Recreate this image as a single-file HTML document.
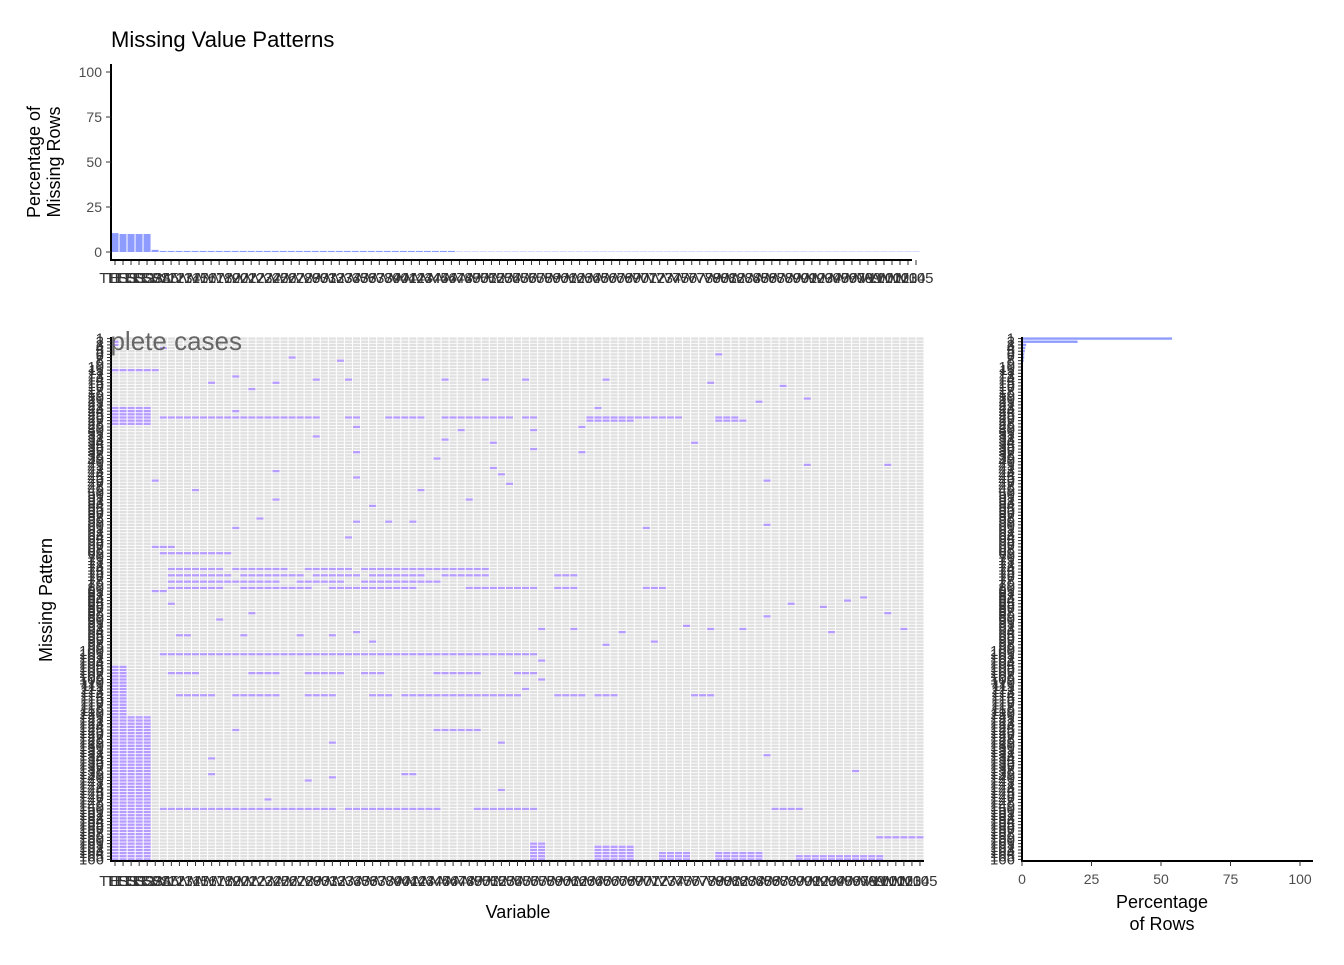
<!DOCTYPE html>
<html><head><meta charset="utf-8"><style>
body{margin:0;background:#fff;font-family:"Liberation Sans",Arial,sans-serif}
svg text{font-family:"Liberation Sans",Arial,sans-serif}
</style></head><body>
<svg id="c" width="1344" height="960" xmlns="http://www.w3.org/2000/svg">
<text x="111" y="47" font-size="22" fill="#000">Missing Value Patterns</text>
<text transform="translate(40,162) rotate(-90)" text-anchor="middle" font-size="18"><tspan x="0" dy="0">Percentage of</tspan><tspan x="0" dy="20">Missing Rows</tspan></text>
<text transform="translate(52,600) rotate(-90)" text-anchor="middle" font-size="18">Missing Pattern</text>
<text x="518" y="918" text-anchor="middle" font-size="18">Variable</text>
<text x="1162" y="908" text-anchor="middle" font-size="18"><tspan x="1162" dy="0">Percentage</tspan><tspan x="1162" dy="22">of Rows</tspan></text>
<g id="topg"></g>
<g id="heat"></g>
<g id="rightg"></g>
</svg>
<script>
const nCols = 101;
const nRows = 166;
const topPct = [10.5,10,10,10,10,1.2].concat(new Array(37).fill(0.6)).concat(new Array(58).fill(0.2));
const rowPct = [54,20,1.5,1.2,1,0.8,0.8,0.6].concat(new Array(158).fill(0.3));
const topTicks = [0,25,50,75,100];
const rightTicks = [0,25,50,75,100];
// missing blocks: row0,row1,col0,col1
const bR0=[3,10,22,25,25,25,25,25,25,25,25,26,26,6,7,14,12,16,14,13,13,13,13,13,13,14,15,5,19,20,22,23,31,32,28,29,33,29,28,25,36,38,41,35,36,33,40,40,45,48,42,44,48,51,43,46,45,53,58,58,58,57,51,60,63,60,59,66,68,73,73,73,73,73,73,75,75,75,75,75,75,77,77,77,77,79,79,79,79,79,79,80,84,87,89,93,96,92,92,93,91,92,92,88,84,85,83,82,87,92,93,94,94,94,94,94,100,97,96,102,108,111,106,106,106,106,106,106,113,113,113,113,113,113,113,113,124,124,128,128,133,138,146,140,139,138,143,137,132,149,149,149,149,160,161,163,163,164,158,104,120,1,2];
const bR1=[3,10,27,25,25,25,25,25,25,25,25,26,26,6,7,14,12,16,14,13,13,13,13,13,13,14,15,5,19,20,22,23,31,32,28,29,33,29,28,25,36,38,41,35,36,33,40,40,45,48,42,44,48,51,43,46,45,53,58,58,58,57,51,60,63,60,59,66,68,73,73,73,73,73,73,75,75,75,75,75,75,77,77,77,77,79,79,79,79,79,79,80,84,87,89,93,96,92,92,93,91,92,92,88,84,85,83,82,87,92,93,94,94,94,94,94,100,97,96,102,108,111,106,106,106,106,106,106,113,113,113,113,113,113,113,113,124,124,128,128,133,138,146,140,139,138,143,137,132,149,149,149,149,165,165,165,165,165,158,165,165,1,2];
const bC0=[6,0,0,6,29,34,41,51,59,64,75,59,75,22,28,12,15,17,20,25,29,41,46,51,61,74,83,75,86,80,60,15,25,41,30,43,47,52,58,63,30,40,47,52,58,72,86,96,5,10,20,30,38,44,48,49,81,32,34,37,30,18,20,15,29,66,81,5,6,7,15,24,31,38,43,7,16,25,32,41,55,7,23,31,37,7,16,27,44,55,66,5,7,17,13,30,32,53,57,63,71,74,78,81,84,88,91,93,96,98,89,8,9,16,23,27,6,61,67,53,53,51,7,17,24,31,40,50,8,15,24,32,36,55,60,72,15,40,48,27,12,12,19,24,27,36,48,92,81,6,29,45,82,52,60,68,75,85,95,0,0,0,0];
const bC1=[6,5,4,25,30,38,49,52,63,70,77,64,78,22,28,12,15,17,20,25,29,41,46,51,61,74,83,75,86,80,60,15,25,41,30,43,47,52,58,63,30,40,47,52,58,72,86,96,5,10,20,30,38,44,48,49,81,32,34,37,30,18,20,15,29,66,81,7,14,13,21,29,37,42,46,14,23,30,38,46,57,20,28,36,40,13,24,37,52,57,68,6,7,17,13,30,32,53,57,63,71,74,78,81,84,88,91,93,96,98,89,8,9,16,23,27,52,61,67,53,53,51,10,20,28,33,45,52,12,20,27,34,50,58,62,74,15,45,48,27,12,12,19,24,27,37,48,92,81,27,40,52,85,53,64,71,80,95,100,1,4,0,0];

const NS='http://www.w3.org/2000/svg';
function mk(p,tag,attrs){const e=document.createElementNS(NS,tag);for(const k in attrs)e.setAttribute(k,attrs[k]);p.appendChild(e);return e;}
const hx0=111,hx1=924,hy0=337,hy1=861;
const cw=(hx1-hx0)/nCols, rh=(hy1-hy0)/nRows;
const xCol=c=>hx0+c*cw, yRow=r=>hy0+r*rh;
const heat=document.getElementById('heat');
const miss=[];for(let r=0;r<nRows;r++)miss.push(new Array(nCols).fill(false));
for(let i=0;i<bR0.length;i++)for(let r=bR0[i];r<=bR1[i];r++)for(let c=bC0[i];c<=bC1[i];c++)if(r<nRows&&c<nCols)miss[r][c]=true;
for(let r=0;r<nRows;r++)for(let c=0;c<nCols;c++){
  const e=mk(heat,'rect',{x:xCol(c)+0.5,y:yRow(r)+0.4,width:cw-1,height:rh-0.8,fill:miss[r][c]?'#b69bff':'#e0e0e0'});
  
  
}
const cp=mk(heat,'clipPath',{id:'hc'});mk(cp,'rect',{x:hx0,y:hy0-20,width:hx1-hx0,height:60});
const cc=mk(heat,'text',{x:242,y:350,'text-anchor':'end','font-size':26,fill:'#666','clip-path':'url(#hc)'});
cc.textContent='Complete cases';


mk(heat,'line',{x1:hx0,y1:hy0,x2:hx0,y2:hy1+1,stroke:'#000','stroke-width':2});
mk(heat,'line',{x1:hx0-1,y1:hy1,x2:hx1,y2:hy1,stroke:'#000','stroke-width':2});
for(let r=0;r<nRows;r++){
  const y=yRow(r)+rh/2;
  mk(heat,'line',{x1:hx0-4,y1:y,x2:hx0,y2:y,stroke:'#333','stroke-width':1});
  const t=mk(heat,'text',{x:104,y:y+5,'text-anchor':'end','font-size':15,fill:'#333'});
  t.textContent=String(r+1);
  
  
}
function varName(c){return c===0?'TE':(c<6?'TESS'+c:'V'+(c+5));}
for(let c=0;c<nCols;c++){
  const x=xCol(c)+cw/2;
  mk(heat,'line',{x1:x,y1:hy1,x2:x,y2:hy1+5,stroke:'#333'});
  const t=mk(heat,'text',{x:x,y:886,'text-anchor':'middle','font-size':15,fill:'#333'});
  t.textContent=varName(c);
  
  
}
const topG=document.getElementById('topg');
const tx0=111,tx1=912,ty0=252,ty100=72;
const tcw=(tx1-tx0)/(nCols-1);
const ty=v=>ty0+(ty100-ty0)*v/100;
for(let c=0;c<topPct.length;c++){
  const b=mk(topG,'rect',{x:tx0+c*tcw+0.5,y:ty(topPct[c]),width:tcw-1,height:ty0-ty(topPct[c]),fill:'#8f9cff'});
  
  
  const x=tx0+c*tcw+tcw/2;
  mk(topG,'line',{x1:x,y1:260,x2:x,y2:265,stroke:'#333'});
  const t=mk(topG,'text',{x:x,y:283,'text-anchor':'middle','font-size':15,fill:'#333'});
  t.textContent=varName(c);
  
  
}
mk(topG,'line',{x1:tx0,y1:64,x2:tx0,y2:261,stroke:'#000','stroke-width':2});
mk(topG,'line',{x1:tx0-1,y1:260,x2:tx1,y2:260,stroke:'#000','stroke-width':2});
topTicks.forEach(v=>{
  mk(topG,'line',{x1:tx0-5,y1:ty(v),x2:tx0,y2:ty(v),stroke:'#333'});
  const t=mk(topG,'text',{x:102,y:ty(v)+5,'text-anchor':'end','font-size':14,fill:'#4d4d4d'});
  t.textContent=v;
  
  
});
const rightG=document.getElementById('rightg');
const rx0=1022,rx100=1300;
const rx=v=>rx0+(rx100-rx0)*v/100;
for(let r=0;r<nRows;r++){
  const b=mk(rightG,'rect',{x:rx0,y:yRow(r)+0.4,width:rx(rowPct[r])-rx0,height:rh-0.8,fill:'#8f9cff'});
  
  
  const y=yRow(r)+rh/2;
  mk(rightG,'line',{x1:rx0-4,y1:y,x2:rx0,y2:y,stroke:'#333'});
  const t=mk(rightG,'text',{x:1015,y:y+5,'text-anchor':'end','font-size':15,fill:'#333'});
  t.textContent=String(r+1);
  
  
}
mk(rightG,'line',{x1:rx0,y1:hy0,x2:rx0,y2:hy1+1,stroke:'#000','stroke-width':2});
mk(rightG,'line',{x1:rx0-1,y1:hy1,x2:1313,y2:hy1,stroke:'#000','stroke-width':2});
rightTicks.forEach(v=>{
  mk(rightG,'line',{x1:rx(v),y1:hy1,x2:rx(v),y2:hy1+5,stroke:'#333'});
  const t=mk(rightG,'text',{x:rx(v),y:884,'text-anchor':'middle','font-size':14,fill:'#4d4d4d'});
  t.textContent=v;
  
  
});
</script>
</body></html>
